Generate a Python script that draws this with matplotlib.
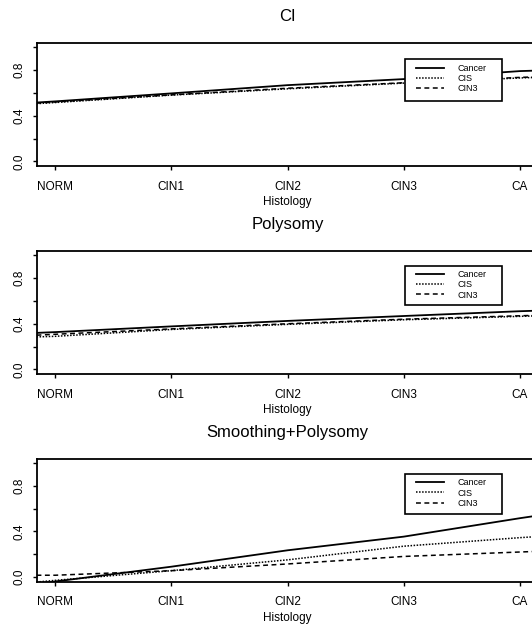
import matplotlib
matplotlib.use("Agg")
import matplotlib.pyplot as plt
from matplotlib.patches import Rectangle

plt.rcParams['font.family'] = ['Liberation Sans', 'DejaVu Sans']

# ---- data ----
categories = ["NORM", "CIN1", "CIN2", "CIN3", "CA"]
cat_pos = [1, 2, 3, 4, 5]
# histology score grid at which curves were evaluated (spans full plot width)
hist_x = [0.84, 1.0, 2.0, 3.0, 4.0, 5.0, 5.16]

series_names = ["Cancer", "CIS", "CIN3"]

ci_cancer = [0.515, 0.525, 0.595, 0.667, 0.720, 0.790, 0.795]
ci_cis    = [0.505, 0.515, 0.580, 0.635, 0.685, 0.730, 0.735]
ci_cin3   = [0.510, 0.520, 0.582, 0.640, 0.688, 0.735, 0.740]

poly_cancer = [0.320, 0.327, 0.377, 0.425, 0.468, 0.510, 0.515]
poly_cis    = [0.285, 0.290, 0.350, 0.395, 0.435, 0.465, 0.470]
poly_cin3   = [0.300, 0.308, 0.355, 0.400, 0.440, 0.470, 0.475]

sp_cancer = [-0.060, -0.040, 0.090, 0.234, 0.354, 0.516, 0.540]
sp_cis    = [-0.045, -0.030, 0.055, 0.150, 0.270, 0.345, 0.355]
sp_cin3   = [0.015, 0.015, 0.055, 0.114, 0.180, 0.219, 0.225]

panels = [
    ("CI", [ci_cancer, ci_cis, ci_cin3]),
    ("Polysomy", [poly_cancer, poly_cis, poly_cin3]),
    ("Smoothing+Polysomy", [sp_cancer, sp_cis, sp_cin3]),
]

y_ticks = [0.0, 0.2, 0.4, 0.6, 0.8, 1.0]
y_ticklabels = ["0.0", "", "0.4", "", "0.8", ""]

# ---- layout / style ----
W, H = 532, 625
fig = plt.figure(figsize=(W / 100, H / 100), dpi=100)
fig.patch.set_facecolor("white")

left_px, right_px = 36.5, 538.6
panel_px = [(42.5, 166.0), (250.7, 374.0), (458.5, 581.5)]  # (top, bottom)
legend_y = [(0.528, 0.863), (0.560, 0.879), (0.551, 0.874)]

styles = [
    dict(linestyle="-", linewidth=1.3),
    dict(linestyle=(0, (1.0, 1.0)), linewidth=1.1),
    dict(linestyle=(0, (3.2, 2.3)), linewidth=1.1),
]

for i, (title, data) in enumerate(panels):
    top, bot = panel_px[i]
    ax = fig.add_axes([left_px / W, (H - bot) / H,
                       (right_px - left_px) / W, (bot - top) / H])
    handles = []
    for vals, name, st in zip(data, series_names, styles):
        h, = ax.plot(hist_x, vals, color="black", label=name, **st)
        handles.append(h)
    ax.set_xlim(0.84, 5.16)
    ax.set_ylim(-0.04, 1.04)
    ax.set_xticks(cat_pos)
    ax.set_xticklabels(categories, fontsize=8.5)
    ax.set_yticks(y_ticks)
    ax.set_yticklabels(y_ticklabels, fontsize=8.5, rotation=90, va="center")
    ax.tick_params(axis="x", length=3, width=1.0, pad=7.5)
    ax.tick_params(axis="y", length=3, width=1.0, pad=5)
    for sp in ax.spines.values():
        sp.set_linewidth(1.3)
    ax.set_title(title, fontsize=12, pad=15.5)
    ax.set_xlabel("Histology", fontsize=8.5, labelpad=2.5)

    # legend box
    y0, y1 = legend_y[i]
    bx0, bx1 = 0.733, 0.927
    ax.add_patch(Rectangle((bx0, y0), bx1 - bx0, y1 - y0, transform=ax.transAxes,
                           facecolor="white", edgecolor="black", linewidth=1.2,
                           zorder=5))
    leg = ax.legend(handles=handles, loc="upper left",
                    bbox_to_anchor=(0.755, y1 - 0.035),
                    frameon=False, fontsize=6.5, handlelength=3.2,
                    handletextpad=1.4, labelspacing=0.15, borderpad=0,
                    borderaxespad=0)
    leg.set_zorder(6)

fig.savefig("out.png", dpi=100, facecolor="white")
